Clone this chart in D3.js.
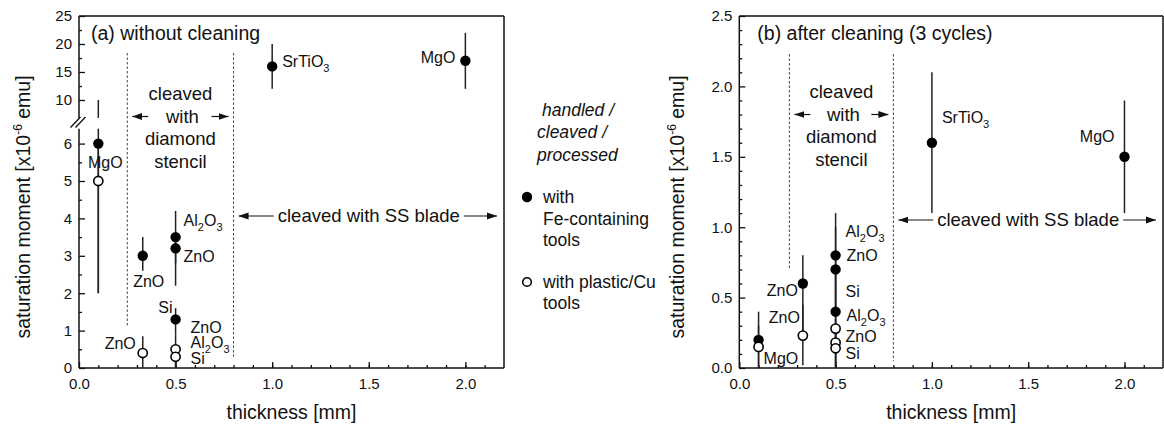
<!DOCTYPE html>
<html>
<head>
<meta charset="utf-8">
<script src="https://cdn.jsdelivr.net/npm/d3@7"></script>
<style>
  body { margin: 0; background: #fff; }
  text { font-family: "Liberation Sans", Arial, sans-serif; fill: #111; }
</style>
</head>
<body>
<div id="chart"></div>
<script>
// ---- data, panel (a) without cleaning ----
const thickA = [0.1, 0.1, 0.33, 0.5, 0.5, 0.5, 0.33, 0.5, 0.5, 1.0, 2.0]
const momentA = [6, 5, 3, 3.5, 3.2, 1.3, 0.4, 0.5, 0.3, 16, 17]
const lowA = [2, 2, 2.6, 2.8, 2.2, 0.9, 0, 0, 0, 12, 12]
const highA = [10, 6, 3.5, 4.2, 3.6, 1.6, 0.85, 0.9, 0.6, 20, 22]
const toolA = ['Fe', 'Cu', 'Fe', 'Fe', 'Fe', 'Fe', 'Cu', 'Cu', 'Cu', 'Fe', 'Fe']

// ---- data, panel (b) after cleaning ----
const thickB = [0.1, 0.1, 0.33, 0.33, 0.5, 0.5, 0.5, 0.5, 0.5, 0.5, 1.0, 2.0]
const momentB = [0.2, 0.15, 0.6, 0.23, 0.8, 0.7, 0.4, 0.28, 0.18, 0.14, 1.6, 1.5]
const lowB = [0, 0, 0.2, 0.02, 0.5, 0.4, 0.1, 0, 0, 0, 1.1, 1.1]
const highB = [0.4, 0.3, 0.8, 0.45, 1.1, 1.0, 0.7, 0.5, 0.35, 0.3, 2.1, 1.9]
const toolB = ['Fe', 'Cu', 'Fe', 'Cu', 'Fe', 'Fe', 'Fe', 'Cu', 'Cu', 'Cu', 'Fe', 'Fe']

// ticks
const xTicks = [0, 0.5, 1.0, 1.5, 2.0]
const yTicksALow = [0, 1, 2, 3, 4, 5, 6]
const yTicksAHigh = [10, 15, 20, 25]
const yTicksB = [0, 0.5, 1.0, 1.5, 2.0, 2.5]

// sample labels (anchor in data units, offset in px)
const labelsA = [
  { t: 'MgO', x: 0.1, v: 5.5, dx: 7, dy: 0, a: 'middle' },
  { t: 'ZnO', x: 0.33, v: 3, dx: 6, dy: 26, a: 'middle' },
  { t: 'Al_2O_3', x: 0.5, v: 3.5, dx: 8, dy: -17, a: 'start' },
  { t: 'ZnO', x: 0.5, v: 3.2, dx: 8, dy: 8, a: 'start' },
  { t: 'Si', x: 0.5, v: 1.3, dx: -3, dy: -12, a: 'end' },
  { t: 'ZnO', x: 0.5, v: 1.3, dx: 15, dy: 8, a: 'start' },
  { t: 'ZnO', x: 0.33, v: 0.4, dx: -7, dy: -10, a: 'end' },
  { t: 'Al_2O_3', x: 0.5, v: 0.5, dx: 15, dy: -7, a: 'start' },
  { t: 'Si', x: 0.5, v: 0.3, dx: 15, dy: 2, a: 'start' },
  { t: 'SrTiO_3', x: 1.0, v: 16, dx: 10, dy: -5, a: 'start' },
  { t: 'MgO', x: 2.0, v: 17, dx: -10, dy: -3, a: 'end' }
]
const labelsB = [
  { t: 'MgO', x: 0.1, v: 0.15, dx: 5, dy: 12, a: 'start' },
  { t: 'ZnO', x: 0.33, v: 0.6, dx: -5, dy: 7, a: 'end' },
  { t: 'ZnO', x: 0.33, v: 0.23, dx: -3, dy: -18, a: 'end' },
  { t: 'Al_2O_3', x: 0.5, v: 0.8, dx: 10, dy: -24, a: 'start' },
  { t: 'ZnO', x: 0.5, v: 0.8, dx: 11, dy: 0, a: 'start' },
  { t: 'Si', x: 0.5, v: 0.7, dx: 10, dy: 22, a: 'start' },
  { t: 'Al_2O_3', x: 0.5, v: 0.4, dx: 11, dy: 4, a: 'start' },
  { t: 'ZnO', x: 0.5, v: 0.18, dx: 10, dy: -6, a: 'start' },
  { t: 'Si', x: 0.5, v: 0.14, dx: 10, dy: 5, a: 'start' },
  { t: 'SrTiO_3', x: 1.0, v: 1.6, dx: 10, dy: -25, a: 'start' },
  { t: 'MgO', x: 2.0, v: 1.5, dx: -10, dy: -20, a: 'end' }
]

const plotTop = 16
const plotBottom = 368

const svg = d3
  .select('#chart')
  .append('svg')
  .attr('width', 1164)
  .attr('height', 428)

svg
  .append('defs')
  .append('marker')
  .attr('id', 'head')
  .attr('markerUnits', 'userSpaceOnUse')
  .attr('markerWidth', 10)
  .attr('markerHeight', 8)
  .attr('refX', 10)
  .attr('refY', 4)
  .attr('orient', 'auto')
  .append('path')
  .attr('d', 'M0,0.5 L10,4 L0,7.5 Z')
  .attr('fill', '#111')

function formula(sel, str) {
  const parts = str.split(/_(\d)/)
  let shifted = false
  parts.forEach((p, i) => {
    if (!p) return
    if (i % 2) {
      sel.append('tspan').attr('dy', 5).attr('font-size', 11).text(p)
      shifted = true
    } else {
      const t = sel.append('tspan').text(p)
      if (shifted) t.attr('dy', -5)
      shifted = false
    }
  })
}

function styleAxis(g, fs) {
  g.attr('font-size', fs).attr('font-family', '"Liberation Sans", Arial, sans-serif')
  g.selectAll('.tick line').attr('stroke', '#111').attr('stroke-width', 1.3)
  g.selectAll('.tick text').attr('fill', '#111')
  g.select('.domain').remove()
}

function hline(g, x1, x2, y) {
  g.append('line').attr('x1', x1).attr('x2', x2).attr('y1', y).attr('y2', y)
    .attr('stroke', '#111').attr('stroke-width', 1.5)
}
function vline(g, x, y1, y2) {
  g.append('line').attr('x1', x).attr('x2', x).attr('y1', y1).attr('y2', y2)
    .attr('stroke', '#111').attr('stroke-width', 1.5)
}

function arrow(g, x1, x2, y) {
  g.append('line')
    .attr('x1', x1).attr('x2', x2).attr('y1', y).attr('y2', y)
    .attr('stroke', '#111').attr('stroke-width', 1.2)
    .attr('marker-end', 'url(#head)')
}

function drawPanel(cfg) {
  const g = svg.append('g')
  const x = d3.scaleLinear().domain([0, 2.2]).range(cfg.xr)
  const y = cfg.y

  // frame
  hline(g, cfg.xr[0], cfg.xr[1], plotTop)
  vline(g, cfg.xr[1], plotTop, plotBottom)
  hline(g, cfg.xr[0], cfg.xr[1], plotBottom)

  // x axis
  const xg = g.append('g').attr('transform', 'translate(0,' + plotBottom + ')')
  xg.call(d3.axisBottom(x).tickValues(xTicks).tickFormat(d3.format('.1f')).tickSize(-6).tickPadding(10))
  styleAxis(xg, 15)
  const xm = g.append('g').attr('transform', 'translate(0,' + plotBottom + ')')
  xm.call(d3.axisBottom(x).tickValues(d3.range(0.1, 2.2, 0.1)).tickFormat('').tickSize(-3))
  styleAxis(xm, 15)

  g.append('text')
    .attr('x', (cfg.xr[0] + cfg.xr[1]) / 2)
    .attr('y', 419)
    .attr('text-anchor', 'middle')
    .attr('font-size', 19.5)
    .text('thickness [mm]')

  // y title
  const yt = g.append('text')
    .attr('transform', 'translate(' + cfg.yTitleX + ',207) rotate(-90)')
    .attr('text-anchor', 'middle')
    .attr('font-size', 19.5)
  yt.append('tspan').text('saturation moment [x10')
  yt.append('tspan').attr('dy', -8).attr('font-size', 12).text('-6')
  yt.append('tspan').attr('dy', 8).text(' emu]')

  cfg.yAxis(g)

  // dashed region borders
  cfg.dashed.forEach(d => {
    g.append('line')
      .attr('x1', x(d.x)).attr('x2', x(d.x))
      .attr('y1', y(d.from)).attr('y2', y(d.to))
      .attr('stroke', '#444').attr('stroke-width', 1)
      .attr('stroke-dasharray', '2.5,2')
  })

  // panel title
  g.append('text')
    .attr('x', cfg.xr[0] + cfg.titleDx)
    .attr('y', 40)
    .attr('font-size', 19.5)
    .text(cfg.title)

  // diamond stencil note
  const xl = x(cfg.dashed[0].x)
  const xr = x(cfg.dashed[1].x)
  const cx = (xl + xr) / 2
  ;['cleaved', 'with', 'diamond', 'stencil'].forEach((s, i) => {
    g.append('text')
      .attr('x', cx + (i === 1 ? 2 : 0))
      .attr('y', cfg.noteY + i * 22.5)
      .attr('dy', '0.35em')
      .attr('text-anchor', 'middle')
      .attr('font-size', 18.5)
      .text(s)
  })
  const ay = cfg.noteY + 22.5
  arrow(g, xl + 21, xl + 5, ay)
  arrow(g, xr - 22, xr - 5, ay)

  // SS blade note
  const bx = (xr + cfg.xr[1]) / 2
  const bt = g.append('text')
    .attr('x', bx)
    .attr('y', cfg.bladeY)
    .attr('dy', '0.35em')
    .attr('text-anchor', 'middle')
    .attr('font-size', 18.5)
    .text('cleaved with SS blade')
  const w = bt.node().getComputedTextLength()
  arrow(g, bx - w / 2 - 4, xr + 5, cfg.bladeY)
  arrow(g, bx + w / 2 + 4, cfg.xr[1] - 7, cfg.bladeY)

  // error bars
  const pts = cfg.thick.map((t, i) => ({ t, m: cfg.moment[i], lo: cfg.low[i], hi: cfg.high[i], tool: cfg.tool[i] }))
  pts.forEach(p => {
    cfg.segments(p.lo, p.hi).forEach(s => {
      g.append('line')
        .attr('x1', x(p.t)).attr('x2', x(p.t))
        .attr('y1', s[0]).attr('y2', s[1])
        .attr('stroke', '#222').attr('stroke-width', 1.5)
    })
  })

  // markers
  g.selectAll('.pt')
    .data(pts)
    .enter()
    .append('circle')
    .attr('cx', d => x(d.t))
    .attr('cy', d => y(d.m))
    .attr('r', d => (d.tool === 'Fe' ? 5.2 : 4.6))
    .attr('fill', d => (d.tool === 'Fe' ? '#000' : '#fff'))
    .attr('stroke', '#000')
    .attr('stroke-width', d => (d.tool === 'Fe' ? 0 : 1.6))

  // sample labels
  cfg.labels.forEach(l => {
    const t = g.append('text')
      .attr('x', x(l.x) + l.dx)
      .attr('y', y(l.v) + l.dy)
      .attr('dy', '0.35em')
      .attr('text-anchor', l.a)
      .attr('font-size', 16)
    formula(t, l.t)
  })
}

// ---- panel (a): broken y axis ----
const yLoA = d3.scaleLinear().domain([0, 6]).range([plotBottom, 143.6])
const yHiA = d3.scaleLinear().domain([10, 25]).range([100, plotTop])
const brk = [6.4, 6.8]
const yA = v => (v <= brk[0] ? yLoA(v) : yHiA(Math.max(v, brk[1])))

drawPanel({
  xr: [79, 504],
  y: yA,
  thick: thickA, moment: momentA, low: lowA, high: highA, tool: toolA,
  labels: labelsA,
  title: '(a) without cleaning',
  titleDx: 12,
  yTitleX: 30,
  noteY: 94,
  bladeY: 216,
  dashed: [{ x: 0.25, from: 18.4, to: 1.1 }, { x: 0.8, from: 18.4, to: 0.3 }],
  segments: (lo, hi) => {
    if (lo < brk[0] && hi > brk[1]) {
      return [[yLoA(lo), yLoA(brk[0])], [yHiA(brk[1]), yHiA(hi)]]
    }
    return [[yA(lo), yA(hi)]]
  },
  yAxis: g => {
    const ax = 79
    vline(g, ax, plotBottom, yLoA(brk[0]))
    vline(g, ax, yHiA(brk[1]), plotTop)
    // break marks
    ;[-2.5, 2.5].forEach(o => {
      g.append('line')
        .attr('x1', ax - 6 + o).attr('y1', 127.5)
        .attr('x2', ax + 4 + o).attr('y2', 117)
        .attr('stroke', '#111').attr('stroke-width', 1.3)
    })
    const lo = g.append('g').attr('transform', 'translate(' + ax + ',0)')
    lo.call(d3.axisLeft(yLoA).tickValues(yTicksALow).tickFormat(d3.format('d')).tickSize(-6).tickPadding(7))
    styleAxis(lo, 15)
    const lom = g.append('g').attr('transform', 'translate(' + ax + ',0)')
    lom.call(d3.axisLeft(yLoA).tickValues(d3.range(0.5, 6.1, 1)).tickFormat('').tickSize(-3))
    styleAxis(lom, 15)
    const hi = g.append('g').attr('transform', 'translate(' + ax + ',0)')
    hi.call(d3.axisLeft(yHiA).tickValues(yTicksAHigh).tickFormat(d3.format('d')).tickSize(-6).tickPadding(7))
    styleAxis(hi, 15)
    const him = g.append('g').attr('transform', 'translate(' + ax + ',0)')
    him.call(d3.axisLeft(yHiA).tickValues([12.5, 17.5, 22.5]).tickFormat('').tickSize(-3))
    styleAxis(him, 15)
  }
})

// ---- panel (b) ----
const yB = d3.scaleLinear().domain([0, 2.5]).range([plotBottom, plotTop])

drawPanel({
  xr: [739.3, 1163],
  y: yB,
  thick: thickB, moment: momentB, low: lowB, high: highB, tool: toolB,
  labels: labelsB,
  title: '(b) after cleaning (3 cycles)',
  titleDx: 18,
  yTitleX: 684,
  noteY: 92,
  bladeY: 220,
  dashed: [{ x: 0.26, from: 2.23, to: 0.71 }, { x: 0.8, from: 2.23, to: 0.05 }],
  segments: (lo, hi) => [[yB(lo), yB(hi)]],
  yAxis: g => {
    const ax = 739.3
    vline(g, ax, plotBottom, plotTop)
    const a = g.append('g').attr('transform', 'translate(' + ax + ',0)')
    a.call(d3.axisLeft(yB).tickValues(yTicksB).tickFormat(d3.format('.1f')).tickSize(-6).tickPadding(7))
    styleAxis(a, 15)
    const m = g.append('g').attr('transform', 'translate(' + ax + ',0)')
    m.call(d3.axisLeft(yB).tickValues(d3.range(0.1, 2.5, 0.1).filter(v => Math.abs(v * 2 - Math.round(v * 2)) > 0.01)).tickFormat('').tickSize(-3))
    styleAxis(m, 15)
  }
})

// ---- legend ----
const lg = svg.append('g')
;[['handled /', 542, 110], ['cleaved /', 537, 132], ['processed', 537, 155]].forEach(r => {
  lg.append('text')
    .attr('x', r[1]).attr('y', r[2]).attr('dy', '0.35em')
    .attr('font-size', 17.5).attr('font-style', 'italic')
    .text(r[0])
})
lg.append('circle').attr('cx', 527).attr('cy', 197).attr('r', 5.2).attr('fill', '#000')
lg.append('circle').attr('cx', 527).attr('cy', 282).attr('r', 4.3)
  .attr('fill', '#fff').attr('stroke', '#000').attr('stroke-width', 1.6)
;[['with', 197], ['Fe-containing', 218.5], ['tools', 240], ['with plastic/Cu', 282], ['tools', 302.5]].forEach(r => {
  lg.append('text')
    .attr('x', 543).attr('y', r[1]).attr('dy', '0.35em')
    .attr('font-size', 17.5)
    .text(r[0])
})
</script>
</body>
</html>
